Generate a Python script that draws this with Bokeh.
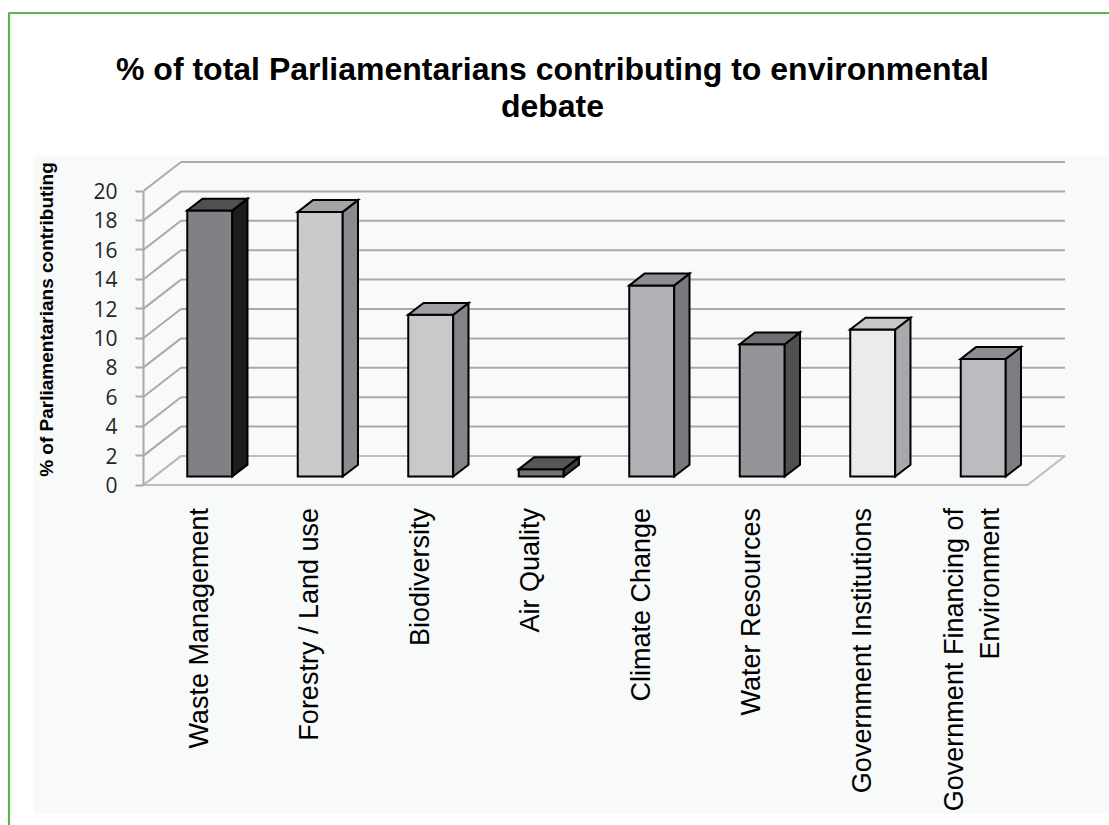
import math
from bokeh.plotting import figure
from bokeh.models import Range1d, FixedTicker, Label
from bokeh.embed import file_html
from bokeh.resources import INLINE

# ---------------- data ----------------
title_text = "% of total Parliamentarians contributing to environmental\ndebate"
y_title = "% of Parliamentarians contributing"
categories = ["Waste Management", "Forestry / Land use", "Biodiversity", "Air Quality",
              "Climate Change", "Water Resources", "Government Institutions",
              "Government Financing of\nEnvironment"]
values = [18.1, 18.0, 11.0, 0.5, 13.0, 9.0, 10.0, 8.0]
y_ticks = [0, 2, 4, 6, 8, 10, 12, 14, 16, 18, 20]

# ---------------- styles ----------------
front_colors = ["#808184", "#c9cacc", "#c8c9cb", "#737477", "#b1b2b5", "#949598", "#ebebed", "#bbbcbf"]
side_colors = ["#1c1c1c", "#8a8b8e", "#838488", "#3a3a3a", "#78797c", "#4f5052", "#a8a9ac", "#7c7d81"]
top_colors = ["#505050", "#a3a4a7", "#9fa0a3", "#575757", "#8c8d90", "#6e6f72", "#c6c7c9", "#8d8e91"]
GRID = "#a9a9a9"
GREEN = "#5ab54b"

# ---------------- geometry (pixel <-> data helpers) ----------------
W, H = 1109, 825
PX_X0, UX = 143.0, 110.5   # px of front-plane x=0, px per category
PX_Y0, UY = 484.5, 14.7    # px of value 0 (front), px per value unit


def dx(px):
    return (px - PX_X0) / UX


def dy(py):
    return (PX_Y0 - py) / UY


DEPTH_X = 37.5 / UX
DEPTH_Y = 29.0 / UY
F0, F1 = 0.293, 0.70       # bar front / back depth fraction
BW = 0.407                 # bar width (category units)
n = len(categories)
y_max = y_ticks[-1]

p = figure(width=W, height=H,
           x_range=Range1d(dx(0), dx(W)), y_range=Range1d(dy(H), dy(0)),
           output_backend="svg", toolbar_location=None, title_location=None,
           min_border=0, background_fill_color="white", border_fill_color="white",
           outline_line_color=None)
p.xgrid.visible = False
p.ygrid.visible = False

# chart area background
p.quad(left=dx(33), right=dx(1107), top=dy(155), bottom=dy(813),
       fill_color="#f8f9f9", line_color=None)

# green frame lines (slide border)
p.line(x=[dx(8.5), dx(8.5), dx(W)], y=[dy(H), dy(12.5), dy(12.5)],
       line_color=GREEN, line_width=2.2)

# back wall gridlines
p.multi_line(xs=[[DEPTH_X, n + DEPTH_X] for v in y_ticks],
             ys=[[v + DEPTH_Y, v + DEPTH_Y] for v in y_ticks],
             line_color=GRID, line_width=2)
# side wall diagonals
p.multi_line(xs=[[0, DEPTH_X] for v in y_ticks],
             ys=[[v, v + DEPTH_Y] for v in y_ticks],
             line_color=GRID, line_width=2)
# floor
p.patch(x=[0, n, n + DEPTH_X, DEPTH_X], y=[0, 0, DEPTH_Y, DEPTH_Y],
        fill_color=None, line_color="#bdbdbd", line_width=2)

# 3D bars
fx, fy, sx, sy, tx, ty = [], [], [], [], [], []
sdx = (F1 - F0) * DEPTH_X
sdy = (F1 - F0) * DEPTH_Y
for i, v in enumerate(values):
    left = i + 0.5 - BW / 2 + F0 * DEPTH_X
    right = left + BW
    base = F0 * DEPTH_Y
    top = base + v
    fx.append([left, right, right, left]); fy.append([base, base, top, top])
    sx.append([right, right + sdx, right + sdx, right]); sy.append([base, base + sdy, top + sdy, top])
    tx.append([left, right, right + sdx, left + sdx]); ty.append([top, top, top + sdy, top + sdy])

p.patches(xs=fx, ys=fy, fill_color=front_colors, line_color="black", line_width=2, line_join="miter")
p.patches(xs=sx, ys=sy, fill_color=side_colors, line_color="black", line_width=2, line_join="miter")
p.patches(xs=tx, ys=ty, fill_color=top_colors, line_color="black", line_width=2, line_join="miter")

# y axis
p.yaxis.ticker = FixedTicker(ticks=y_ticks)
p.yaxis.bounds = (0, y_max)
p.yaxis.fixed_location = 0
p.yaxis.axis_line_color = GRID
p.yaxis.axis_line_width = 2
p.yaxis.major_tick_line_color = GRID
p.yaxis.major_tick_line_width = 2
p.yaxis.major_tick_out = 8
p.yaxis.major_tick_in = 0
p.yaxis.minor_tick_line_color = None
p.yaxis.major_label_text_font = "Open Sans"
p.yaxis.major_label_text_font_size = "21px"
p.yaxis.major_label_text_color = "#262626"
p.yaxis.major_label_standoff = 18

# x axis
tick_pos = [i + 0.5 for i in range(n)]
p.xaxis.ticker = FixedTicker(ticks=tick_pos)
p.xaxis.major_label_overrides = {t: c for t, c in zip(tick_pos, categories)}
p.xaxis.major_label_orientation = math.pi / 2
p.xaxis.fixed_location = 0
p.xaxis.axis_line_color = None
p.xaxis.major_tick_line_color = None
p.xaxis.minor_tick_line_color = None
p.xaxis.major_label_standoff = 17
p.xaxis.major_label_text_font = "Liberation Sans"
p.xaxis.major_label_text_font_size = "27px"
p.xaxis.major_label_text_color = "black"

# titles
p.add_layout(Label(x=dx(552), y=dy(50), text=title_text, text_align="center",
                   text_baseline="top", text_font="Liberation Sans", text_font_style="bold",
                   text_font_size="32px", text_line_height=1.05, text_color="black"))
p.add_layout(Label(x=dx(46), y=dy(319), text=y_title, angle=math.pi / 2,
                   text_align="center", text_baseline="middle", text_font="Liberation Sans",
                   text_font_style="bold", text_font_size="19px", text_color="black"))

open("out.html", "w").write(file_html(p, INLINE))
